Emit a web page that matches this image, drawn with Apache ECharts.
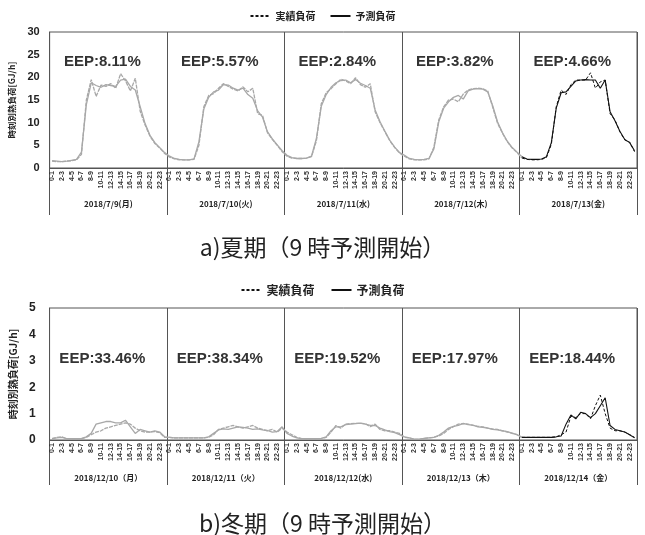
<!DOCTYPE html>
<html><head><meta charset="utf-8">
<script src="https://cdn.jsdelivr.net/npm/echarts@6/dist/echarts.min.js"></script>
<style>html,body{margin:0;padding:0;background:#fff}#c{width:645px;height:535px}</style>
</head><body><div id="c"></div>
<script>
const hourLabels = ["0-1","1-2","2-3","3-4","4-5","5-6","6-7","7-8","8-9","9-10","10-11","11-12","12-13","13-14","14-15","15-16","16-17","17-18","18-19","19-20","20-21","21-22","22-23","23-24"];
const summerDates = ["2018/7/9(月)","2018/7/10(火)","2018/7/11(水)","2018/7/12(木)","2018/7/13(金)"];
const winterDates = ["2018/12/10（月）","2018/12/11（火）","2018/12/12(水)","2018/12/13（木）","2018/12/14（金）"];
const summerEEP = ["EEP:8.11%","EEP:5.57%","EEP:2.84%","EEP:3.82%","EEP:4.66%"];
const winterEEP = ["EEP:33.46%","EEP:38.34%","EEP:19.52%","EEP:17.97%","EEP:18.44%"];

const summerActual = [
 [1.5,1.4,1.4,1.5,1.6,1.8,3.0,15.0,19.5,15.8,18.3,18.0,18.6,17.6,20.8,19.2,17.0,19.8,12.5,9.5,7.0,5.4,4.4,3.2],
 [2.4,2.0,1.8,1.8,1.8,1.9,5.0,13.5,16.0,16.4,17.6,18.6,18.0,17.4,17.0,17.9,16.8,17.6,12.0,11.6,7.8,6.3,5.0,3.6],
 [2.6,2.2,2.1,2.1,2.2,2.5,6.0,14.2,16.6,17.5,18.6,19.6,19.2,18.6,19.9,18.4,17.8,18.6,12.4,10.0,8.0,6.0,4.5,3.3],
 [2.6,2.0,1.8,1.8,1.8,2.0,4.6,10.6,13.5,15.0,15.2,14.6,16.3,17.2,17.5,17.6,17.5,17.0,13.5,9.9,7.7,5.8,4.4,3.4],
 [2.2,1.9,1.8,1.8,1.9,2.3,5.2,13.5,17.2,16.2,18.4,19.4,19.4,19.4,21.0,17.6,19.0,19.4,12.0,10.6,8.0,6.2,5.7,3.6]
];
const summerPred = [
 [1.6,1.5,1.4,1.5,1.7,1.9,3.5,14.0,18.8,18.2,17.8,18.4,18.2,18.0,19.4,19.6,18.0,17.2,13.5,9.8,7.2,5.6,4.5,3.4],
 [2.6,2.1,1.9,1.8,1.8,2.0,5.8,13.0,15.6,16.8,17.2,18.4,18.3,17.6,17.2,17.6,16.2,15.4,12.6,11.2,8.0,6.4,5.1,3.8],
 [2.8,2.3,2.1,2.1,2.2,2.6,6.5,13.6,16.2,17.8,18.8,19.3,19.4,18.8,19.5,18.7,18.2,17.6,12.8,10.2,8.1,6.1,4.6,3.4],
 [2.8,2.1,1.9,1.8,1.9,2.1,4.2,10.2,13.2,14.6,15.6,16.0,15.2,17.0,17.4,17.5,17.4,16.8,13.8,10.2,7.8,5.9,4.5,3.5],
 [2.5,2.0,1.9,1.9,2.0,2.5,5.6,13.2,16.6,16.8,18.0,19.2,19.4,19.5,19.4,19.4,17.6,19.4,12.4,10.4,8.1,6.3,5.6,3.8]
];
const winterActual = [
 [0.05,0.1,0.12,0.05,0.05,0.05,0.05,0.1,0.2,0.3,0.35,0.45,0.5,0.55,0.6,0.65,0.6,0.45,0.35,0.3,0.3,0.32,0.28,0.1],
 [0.1,0.08,0.08,0.08,0.08,0.08,0.08,0.08,0.1,0.2,0.4,0.45,0.5,0.55,0.5,0.45,0.5,0.55,0.45,0.4,0.35,0.4,0.3,0.45],
 [0.3,0.2,0.1,0.05,0.05,0.05,0.05,0.05,0.1,0.3,0.55,0.45,0.6,0.62,0.63,0.63,0.62,0.5,0.6,0.4,0.35,0.35,0.3,0.25],
 [0.1,0.08,0.02,0.02,0.06,0.08,0.1,0.15,0.25,0.4,0.5,0.6,0.62,0.6,0.55,0.52,0.5,0.45,0.42,0.4,0.35,0.3,0.25,0.2],
 [0.1,0.1,0.1,0.1,0.1,0.1,0.1,0.12,0.2,0.3,0.9,0.85,1.0,1.0,0.8,1.3,1.7,1.0,0.45,0.35,0.35,0.3,0.2,0.1]
];
const winterPred = [
 [0.05,0.08,0.1,0.05,0.05,0.05,0.05,0.12,0.25,0.6,0.65,0.7,0.7,0.65,0.65,0.75,0.5,0.25,0.4,0.35,0.3,0.35,0.3,0.12],
 [0.1,0.08,0.08,0.08,0.08,0.08,0.08,0.08,0.12,0.25,0.38,0.42,0.4,0.45,0.5,0.48,0.45,0.4,0.42,0.38,0.36,0.3,0.32,0.5],
 [0.25,0.15,0.08,0.05,0.05,0.05,0.05,0.06,0.12,0.35,0.5,0.5,0.58,0.6,0.62,0.64,0.6,0.55,0.55,0.45,0.38,0.32,0.28,0.2],
 [0.12,0.08,0.03,0.03,0.06,0.08,0.1,0.18,0.3,0.45,0.52,0.55,0.63,0.58,0.56,0.5,0.48,0.45,0.4,0.38,0.35,0.32,0.26,0.2],
 [0.1,0.1,0.1,0.1,0.1,0.1,0.1,0.12,0.15,0.6,0.95,0.8,1.05,1.0,0.85,1.0,1.3,1.6,0.55,0.4,0.35,0.3,0.2,0.08]
];

const FONT = '"Liberation Sans","Noto Sans CJK JP",sans-serif';
const JFONT = '"Noto Sans CJK JP",sans-serif';
const cats = [].concat(hourLabels, hourLabels, hourLabels, hourLabels, hourLabels);
const flat = a => [].concat(...a);
const LAST = 96;
const grayPart = arr => arr.map((v, i) => i <= LAST ? v : null);
const blackPart = arr => arr.map((v, i) => i >= LAST ? v : null);
const dayEdge = (i) => i % 24 === 0;
const GRAY = '#a8a8a8';
const AX = '#555';

function xAxes(gridIndex, dates, eep, tickLen, dateOffset, eepMargin, eepSize) {
  return [
    { type: 'category', gridIndex, data: cats, boundaryGap: true,
      axisLine: { show: true, lineStyle: { color: AX, width: 1 } },
      axisTick: { show: true, interval: dayEdge, length: tickLen, lineStyle: { color: AX } },
      splitLine: { show: true, interval: dayEdge, lineStyle: { color: AX, width: 1 } },
      axisLabel: { interval: 1, rotate: 90, fontSize: 7, fontWeight: 'bold', color: '#333', margin: 3, fontFamily: FONT } },
    { type: 'category', gridIndex, data: dates, position: 'bottom', offset: dateOffset,
      axisLine: { show: false }, axisTick: { show: false },
      axisLabel: { fontSize: 8, fontWeight: 'bold', color: '#222', margin: 2, fontFamily: JFONT } },
    { type: 'category', gridIndex, data: eep, position: 'top',
      axisLine: { show: false }, axisTick: { show: false },
      axisLabel: { inside: true, margin: eepMargin, fontSize: eepSize, fontWeight: 'bold', color: '#333', padding: [0, 12, 0, 0], fontFamily: FONT } }
  ];
}

function mkSeries(xi, yi, actual, pred) {
  const a = flat(actual), p = flat(pred);
  const base = { type: 'line', xAxisIndex: xi, yAxisIndex: yi, symbol: 'none', connectNulls: false, animation: false };
  return [
    Object.assign({}, base, { name: '実績負荷', data: blackPart(a), lineStyle: { color: '#111', width: 1, type: [3, 2] }, itemStyle: { color: '#111' }, z: 4 }),
    Object.assign({}, base, { name: '予測負荷', data: blackPart(p), lineStyle: { color: '#111', width: 1.1 }, itemStyle: { color: '#111' }, z: 4 }),
    Object.assign({}, base, { name: 'g1', data: grayPart(a), lineStyle: { color: GRAY, width: 1.3, type: [4, 1] }, itemStyle: { color: GRAY }, z: 3 }),
    Object.assign({}, base, { name: 'g2', data: grayPart(p), lineStyle: { color: GRAY, width: 1.3 }, itemStyle: { color: GRAY }, z: 3 })
  ];
}

const legendBase = { data: ['実績負荷', '予測負荷'], left: 'center', itemWidth: 20, itemHeight: 6, selectedMode: false, itemStyle: { opacity: 0 } };

const option = {
  animation: false,
  backgroundColor: '#fff',
  title: [
    { text: 'a)夏期（9 時予測開始）', left: 'center', top: 231, textStyle: { fontSize: 23, fontWeight: 'normal', color: '#222', fontFamily: JFONT } },
    { text: 'b)冬期（9 時予測開始）', left: 'center', top: 507, textStyle: { fontSize: 23, fontWeight: 'normal', color: '#222', fontFamily: JFONT } }
  ],
  legend: [
    Object.assign({}, legendBase, { top: 6, itemGap: 14, textStyle: { fontSize: 10, fontWeight: 'bold', color: '#222', fontFamily: JFONT } }),
    Object.assign({}, legendBase, { top: 279, itemGap: 16, textStyle: { fontSize: 12, fontWeight: 'bold', color: '#222', fontFamily: JFONT } })
  ],
  grid: [
    { left: 48, right: 8, top: 32, height: 136, show: true, borderColor: AX, borderWidth: 1 },
    { left: 48, right: 8, top: 308, height: 132, show: true, borderColor: AX, borderWidth: 1 }
  ],
  xAxis: [].concat(
    xAxes(0, summerDates, summerEEP, 47, 30, 22, 15),
    xAxes(1, winterDates, winterEEP, 45, 32, 43, 15)
  ),
  yAxis: [
    { type: 'value', gridIndex: 0, min: 0, max: 30, interval: 5,
      axisLine: { show: true, lineStyle: { color: AX } }, axisTick: { show: false }, splitLine: { show: false },
      axisLabel: { fontSize: 11, fontWeight: 'bold', color: '#222', margin: 10, fontFamily: FONT },
      name: '時刻別熱負荷[GJ/h]', nameLocation: 'middle', nameRotate: 90, nameGap: 29,
      nameTextStyle: { fontSize: 8.5, fontWeight: 'bold', color: '#222', fontFamily: JFONT } },
    { type: 'value', gridIndex: 1, min: 0, max: 5, interval: 1,
      axisLine: { show: true, lineStyle: { color: AX } }, axisTick: { show: false }, splitLine: { show: false },
      axisLabel: { fontSize: 12, fontWeight: 'bold', color: '#222', margin: 14, fontFamily: FONT },
      name: '時刻別熱負荷[GJ/h]', nameLocation: 'middle', nameRotate: 90, nameGap: 31,
      nameTextStyle: { fontSize: 10, fontWeight: 'bold', color: '#222', fontFamily: JFONT } }
  ],
  series: [].concat(
    mkSeries(0, 0, summerActual, summerPred),
    mkSeries(3, 1, winterActual, winterPred)
  )
};
const chart = echarts.init(document.getElementById('c'), null, { renderer: 'canvas' });
chart.setOption(option);
</script></body></html>
